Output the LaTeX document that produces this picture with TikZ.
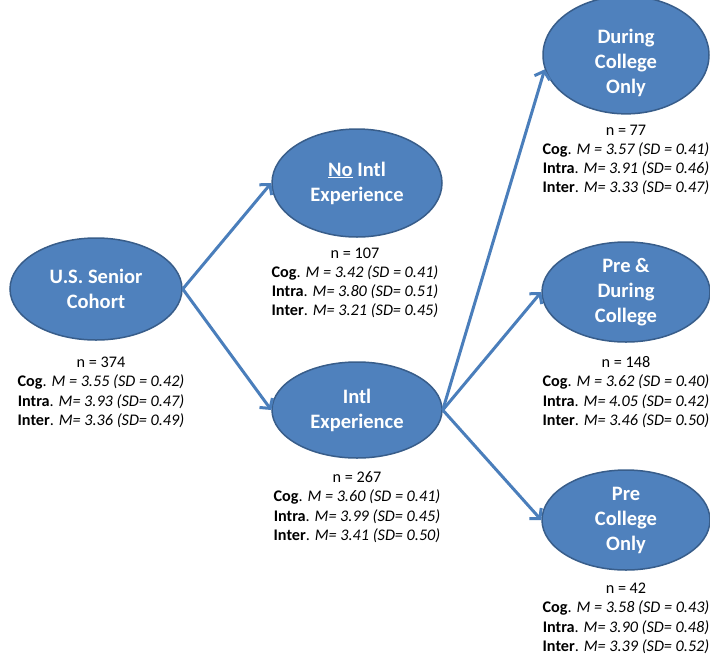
\documentclass[tikz,border=0pt]{standalone}
\usepackage{fontspec}
\setmainfont{Carlito}
\usetikzlibrary{shapes.geometric,arrows.meta}
\definecolor{ellfill}{HTML}{4F81BD}
\definecolor{elldraw}{HTML}{385D8A}
\definecolor{arrowcol}{HTML}{4A7EBB}
\tikzset{
  grp/.style={ellipse, fill=ellfill, draw=elldraw, line width=1.5pt, text=white,
    font=\fontsize{20.5}{25}\selectfont\bfseries, align=center, inner sep=0pt},
  stats/.style={font=\fontsize{16.2}{19.2}\selectfont, align=center, inner sep=0pt, anchor=north},
  link/.style={draw=arrowcol, line width=3pt, -{Straight Barb[length=7pt,width=16pt]}}
}
\begin{document}
\begin{tikzpicture}[x=1pt,y=1pt]
\useasboundingbox (0,0) rectangle (710,-657);
% ellipses
\node[grp, minimum width=172pt, minimum height=102pt] (sen) at (96,-289) {U.S. Senior\\Cohort};
\node[grp, minimum width=170pt, minimum height=108pt] (no) at (357,-183) {\underline{No} Intl\\Experience};
\node[grp, minimum width=170pt, minimum height=96pt] (intl) at (357,-410) {Intl\\Experience};
\node[grp, minimum width=166pt, minimum height=108pt] (dur) at (626,-55) {\rule{0pt}{30pt}During\\College\\Only};
\node[grp, minimum width=168pt, minimum height=100pt] (pd) at (626,-292) {Pre \&\\During\\College};
\node[grp, minimum width=168pt, minimum height=100pt] (pc) at (626,-520) {Pre\\College\\Only};
% stats
\node[stats] (ssen) at (101,-357) {n = 374\\\textbf{Cog}. \textit{M = 3.55 (SD = 0.42)}\\\textbf{Intra}. \textit{M= 3.93 (SD= 0.47)}\\\textbf{Inter}. \textit{M= 3.36 (SD= 0.49)}};
\node[stats] (sno) at (355,-247.5) {n = 107\\\textbf{Cog}. \textit{M = 3.42 (SD = 0.41)}\\\textbf{Intra}. \textit{M= 3.80 (SD= 0.51)}\\\textbf{Inter}. \textit{M= 3.21 (SD= 0.45)}};
\node[stats] (sintl) at (357,-471.5) {n = 267\\\textbf{Cog}. \textit{M = 3.60 (SD = 0.41)}\\\textbf{Intra}. \textit{M= 3.99 (SD= 0.45)}\\\textbf{Inter}. \textit{M= 3.41 (SD= 0.50)}};
\node[stats] (sdur) at (626,-124.5) {n = 77\\\textbf{Cog}. \textit{M = 3.57 (SD = 0.41)}\\\textbf{Intra}. \textit{M= 3.91 (SD= 0.46)}\\\textbf{Inter}. \textit{M= 3.33 (SD= 0.47)}};
\node[stats] (spd) at (626,-356.5) {n = 148\\\textbf{Cog}. \textit{M = 3.62 (SD = 0.40)}\\\textbf{Intra}. \textit{M= 4.05 (SD= 0.42)}\\\textbf{Inter}. \textit{M= 3.46 (SD= 0.50)}};
\node[stats] (spc) at (626,-583) {n = 42\\\textbf{Cog}. \textit{M = 3.58 (SD = 0.43)}\\\textbf{Intra}. \textit{M= 3.90 (SD= 0.48)}\\\textbf{Inter}. \textit{M= 3.39 (SD= 0.52)}};
% arrows
\draw[link] (sen.east) -- (no.west);
\draw[link] (sen.east) -- (intl.west);
\draw[link] (intl.east) -- (dur.190);
\draw[link] (intl.east) -- (pd.west);
\draw[link] (intl.east) -- (pc.west);
\end{tikzpicture}
\end{document}
